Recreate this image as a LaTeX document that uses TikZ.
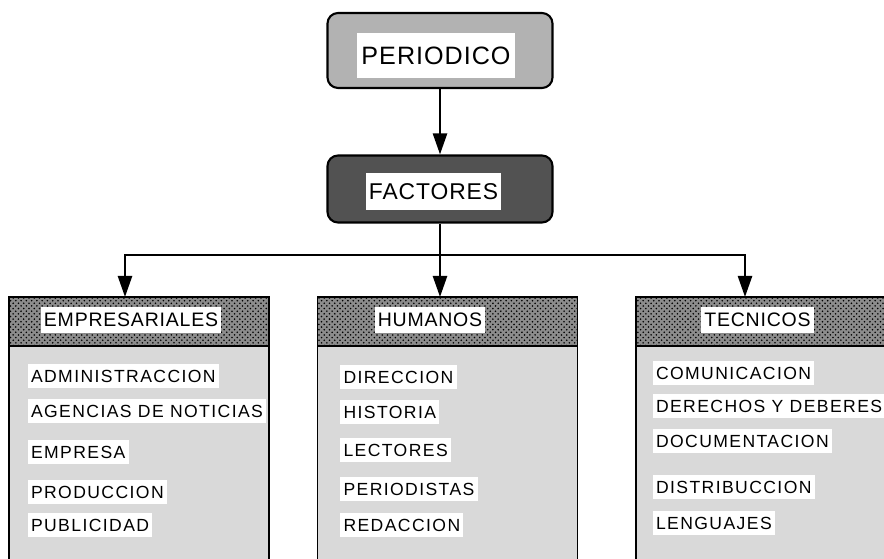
\documentclass[tikz,border=0pt]{standalone}
\usepackage{fontspec}
\newfontfamily\itemfont[LetterSpace=8]{Liberation Sans}
\newfontfamily\headfont[LetterSpace=4]{Liberation Sans}
\usetikzlibrary{arrows.meta}
\usetikzlibrary{positioning, patterns}
\tikzset{
top box/.style = { rectangle, draw = black, line width = 1.2pt, rounded corners = 6pt, minimum width = 45mm },
label/.style = { rectangle, fill = white, text = black, inner xsep = 1.8pt, inner ysep = 0pt },
group head/.style = { rectangle, draw = black, line width = 1pt, outer sep = 0pt, minimum width = 52mm, minimum height = 9.8mm, preaction = {fill = black!45}, pattern = crosshatch dots, pattern color = black },
group body/.style = { rectangle, draw = black, line width = 1pt, outer sep = 0pt, fill = black!15, minimum width = 52mm, minimum height = 46mm },
group label/.style = { label, font = \headfont\fontsize{11.1}{13}\selectfont, minimum height = 5.2mm },
item/.style = { label, anchor = west, font = \itemfont\fontsize{10}{12}\selectfont, minimum height = 4.8mm },
wire/.style = { draw = black, line width = 1.4pt },
link/.style = { wire, -{Triangle[length = 12pt, width = 8pt]} },
}

\begin{document}
\begin{tikzpicture}
    \useasboundingbox (0, 0) rectangle (17.68, 11.18);
    \node[top box, fill = black!30, minimum height = 15mm] (per) at (8.8, 10.17) {};
    \node[label, font = \headfont\fontsize{14.3}{16}\selectfont, minimum height = 9mm, inner xsep = 2.8pt] (per label) at (8.72, 10.07) {PERIODICO};
    \node[top box, fill = black!68, minimum height = 13.4mm] (fac) at (8.8, 7.4) {};
    \node[label, font = \headfont\fontsize{13}{15}\selectfont, minimum height = 7.4mm] (fac label) at (8.67, 7.35) {FACTORES};
    \coordinate (split) at (8.8, 6.08);
    \node[group head] (emp) at (2.78, 4.75) {};
    \node[group body, below = 0pt of emp] (emp body) {};
    \node[group head] (hum) at (8.95, 4.75) {};
    \node[group body, below = 0pt of hum] (hum body) {};
    \node[group head] (tec) at (15.32, 4.75) {};
    \node[group body, below = 0pt of tec] (tec body) {};
    \draw[link] (per) -- (fac);
    \draw[wire] (fac) -- (split);
    \draw[link] (split) -| ([xshift = -2.8mm]emp.north);
    \draw[link] (split) -- (split |- hum.north);
    \draw[link] (split) -| ([xshift = -4.2mm]tec.north);
    \node[group label] (emp label) at (2.62, 4.78) {EMPRESARIALES};
    \node[group label] (hum label) at (8.6, 4.78) {HUMANOS};
    \node[group label] (tec label) at (15.15, 4.78) {TECNICOS};
    \node[item] (emp1) at (0.55, 3.66) {ADMINISTRACCION};
    \node[item] (emp2) at (0.55, 2.96) {AGENCIAS DE NOTICIAS};
    \node[item] (emp3) at (0.55, 2.14) {EMPRESA};
    \node[item] (emp4) at (0.55, 1.34) {PRODUCCION};
    \node[item] (emp5) at (0.55, 0.68) {PUBLICIDAD};
    \node[item] (hum1) at (6.8, 3.64) {DIRECCION};
    \node[item] (hum2) at (6.8, 2.94) {HISTORIA};
    \node[item] (hum3) at (6.8, 2.18) {LECTORES};
    \node[item] (hum4) at (6.8, 1.40) {PERIODISTAS};
    \node[item] (hum5) at (6.8, 0.68) {REDACCION};
    \node[item] (tec1) at (13.05, 3.72) {COMUNICACION};
    \node[item] (tec2) at (13.05, 3.06) {DERECHOS Y DEBERES};
    \node[item] (tec3) at (13.05, 2.36) {DOCUMENTACION};
    \node[item] (tec4) at (13.05, 1.44) {DISTRIBUCCION};
    \node[item] (tec5) at (13.05, 0.72) {LENGUAJES};
\end{tikzpicture}
\end{document}
